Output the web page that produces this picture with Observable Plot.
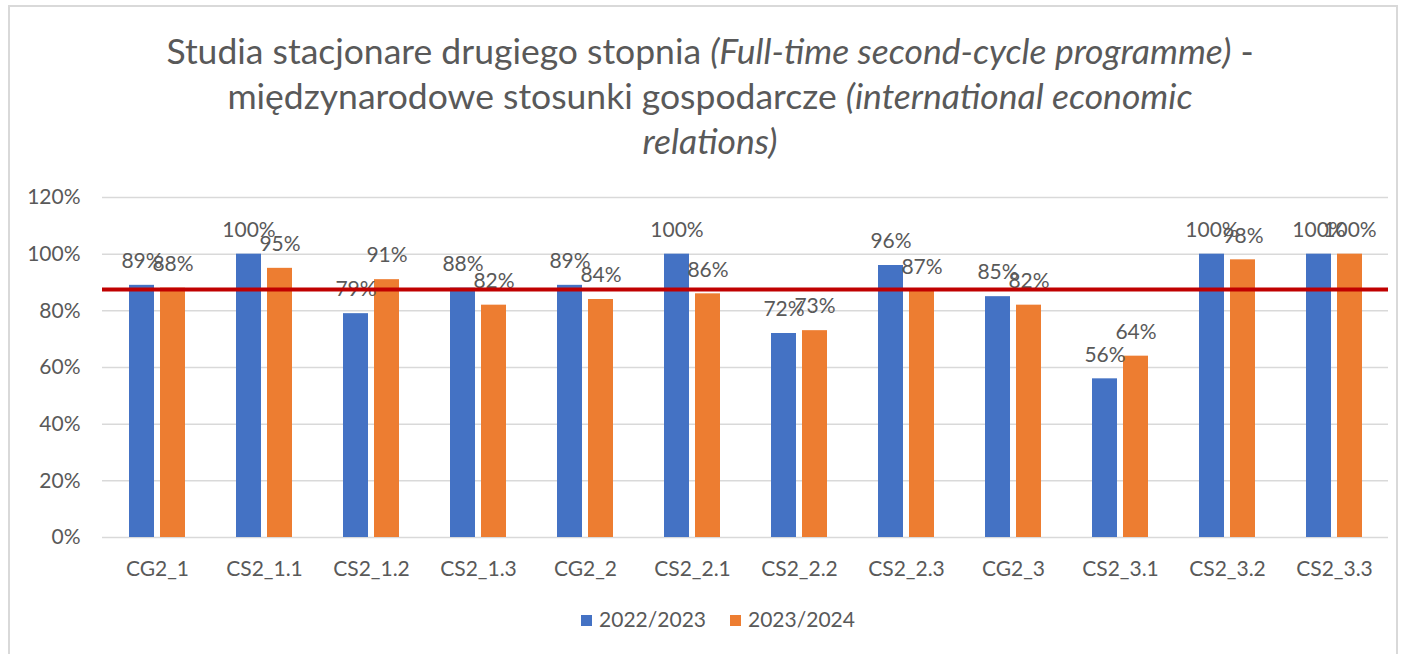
<!DOCTYPE html>
<html>
<head>
<meta charset="utf-8">
<script src="https://cdn.jsdelivr.net/npm/d3@7"></script>
<script src="https://cdn.jsdelivr.net/npm/@observablehq/plot@0.6"></script>
<style>
  html, body { margin: 0; padding: 0; background: #fff; overflow: hidden; }
  body { width: 1404px; height: 654px; position: relative; font-family: Lato, "Open Sans", sans-serif; color: #595959; }
  #frame { position: absolute; left: 8px; top: 5px; width: 1390px; height: 680px; border: 2px solid #d9d9d9; box-sizing: border-box; }
  #title { position: absolute; left: 0; top: 28px; width: 1420px; text-align: center; font-size: 35.5px; line-height: 45px; color: #595959; }
  #chart { position: absolute; left: 0; top: 170px; }
  #legend { position: absolute; left: 0; top: 606px; width: 1436px; text-align: center; font-size: 21px; color: #595959; }
  .sw { display: inline-block; width: 11px; height: 11px; margin-right: 7px; vertical-align: 1px; }
  .item { display: inline-block; margin: 0 12px; }
</style>
</head>
<body>
<div id="frame"></div>
<div id="title">Studia stacjonare drugiego stopnia <i>(Full-time second-cycle programme)</i> -<br>międzynarodowe stosunki gospodarcze <i>(international economic</i><br><i>relations)</i></div>
<div id="chart"></div>
<div id="legend"></div>
<script>
const categories = ["CG2_1", "CS2_1.1", "CS2_1.2", "CS2_1.3", "CG2_2", "CS2_2.1", "CS2_2.2", "CS2_2.3", "CG2_3", "CS2_3.1", "CS2_3.2", "CS2_3.3"];
const seriesNames = ["2022/2023", "2023/2024"];
const values2022 = [0.89, 1.00, 0.79, 0.88, 0.89, 1.00, 0.72, 0.96, 0.85, 0.56, 1.00, 1.00];
const values2023 = [0.88, 0.95, 0.91, 0.82, 0.84, 0.86, 0.73, 0.87, 0.82, 0.64, 0.98, 1.00];
const threshold = [0.875];
const yTicks = [0, 0.2, 0.4, 0.6, 0.8, 1.0, 1.2];
const colors = ["#4472C4", "#ED7D31"];

const rows22 = categories.map((c, i) => ({category: c, series: seriesNames[0], value: values2022[i]}));
const rows23 = categories.map((c, i) => ({category: c, series: seriesNames[1], value: values2023[i]}));
const pct = d => Math.round(d.value * 100) + "%";
const font = "Lato, 'Open Sans', sans-serif";

const chart = Plot.plot({
  width: 1404,
  height: 420,
  marginTop: 27,
  marginBottom: 53,
  marginLeft: 102,
  marginRight: 16,
  style: {fontFamily: font, fontSize: "21px", color: "#595959", background: "transparent"},
  x: {domain: categories, paddingInner: 0.478, paddingOuter: 0.239, label: null},
  y: {domain: [0, 1.2], label: null},
  color: {domain: seriesNames, range: colors},
  marks: [
    Plot.ruleY(yTicks, {stroke: "#d9d9d9", strokeWidth: 1.5}),
    Plot.barY(rows22, {x: "category", y: "value", fill: "series", insetRight: 31}),
    Plot.barY(rows23, {x: "category", y: "value", fill: "series", insetLeft: 31}),
    Plot.text(rows22, {x: "category", y: "value", text: pct, dx: -15.5, dy: -24, fill: "#595959", fontSize: 21}),
    Plot.text(rows23, {x: "category", y: "value", text: pct, dx: 15.5, dy: -24, fill: "#595959", fontSize: 21}),
    Plot.ruleY(threshold, {stroke: "#C00000", strokeWidth: 4}),
    Plot.axisY({ticks: yTicks, tickFormat: d => Math.round(d * 100) + "%", tickSize: 0, tickPadding: 22, fill: "#595959", fontSize: 21}),
    Plot.axisX({tickSize: 0, tickPadding: 24, fill: "#595959", fontSize: 21})
  ]
});
document.getElementById("chart").appendChild(chart);

const legend = document.getElementById("legend");
seriesNames.forEach((s, i) => {
  const item = document.createElement("span");
  item.className = "item";
  const sw = document.createElement("span");
  sw.className = "sw";
  sw.style.background = colors[i];
  item.appendChild(sw);
  item.appendChild(document.createTextNode(s));
  legend.appendChild(item);
});
</script>
</body>
</html>
